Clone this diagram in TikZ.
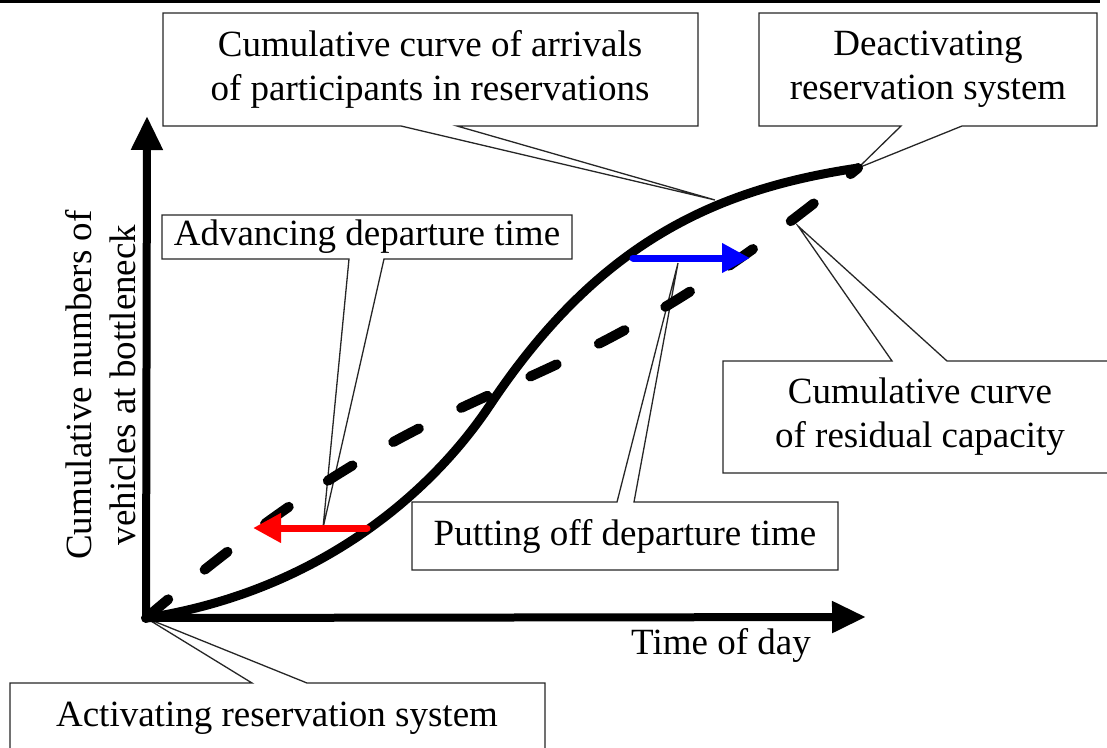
\documentclass[tikz,border=0pt]{standalone}
\usepackage{fontspec}
\setmainfont{Liberation Serif}
\usetikzlibrary{arrows.meta}
\begin{document}
\begin{tikzpicture}[x=1pt,y=-1pt,
  txt/.style={font=\fontsize{37}{44}\selectfont, align=center, inner sep=0pt},
  callout/.style={draw=black!85, line width=1.3pt, fill=white, line join=miter},
  axisline/.style={line width=8pt, -{Triangle[length=34pt,width=30pt]}},
  curveline/.style={line width=9pt, line cap=round, line join=round},
  dashline/.style={line width=10pt, line cap=round, dash pattern=on 29pt off 47pt},
  shiftarrow/.style={line width=7pt, line cap=round, -{Triangle[length=28pt,width=28pt]}}]
\useasboundingbox (0,0) rectangle (1107,747);
\clip (0,0) rectangle (1107,747);

% rule along the top edge
\fill (0,0) rectangle (1100,3);

% key points
\coordinate (O) at (146,618);
\coordinate (ytip) at (147,116);
\coordinate (xtip) at (866,617);
\coordinate (top) at (858,168);
\coordinate (infl) at (490,405);
\coordinate (onArr) at (715,200);
\coordinate (onCap) at (798,226);
\coordinate (onRed) at (323,528);
\coordinate (onBlue) at (678,263);
\coordinate (redStart) at (367,528);
\coordinate (redTip) at (253,528);
\coordinate (blueStart) at (633,258);
\coordinate (blueTip) at (750,258);

% callout frames
\draw[callout] (163,13) -- (698,13) -- (698,126) -- (457,126) -- (onArr) -- (401,126) -- (163,126) -- cycle;
\draw[callout] (759,13) -- (1097,13) -- (1097,126) -- (962,126) -- (top) -- (901,126) -- (759,126) -- cycle;
\draw[callout] (162,215) -- (572,215) -- (572,259) -- (384,259) -- (onRed) -- (349,259) -- (162,259) -- cycle;
\draw[callout] (412,502) -- (617,502) -- (onBlue) -- (634,502) -- (838,502) -- (838,570) -- (412,570) -- cycle;
\draw[callout] (723,361) -- (892,361) -- (onCap) -- (947,361) -- (1125,361) -- (1125,473) -- (723,473) -- cycle;
\draw[callout] (10,683) -- (252,683) -- (O) -- (307,683) -- (545,683) -- (545,770) -- (10,770) -- cycle;

% callout texts
\node[txt] (tArr) at (430,69) {Cumulative curve of arrivals\\of participants in reservations};
\node[txt] (tDeact) at (928,69) {Deactivating\\reservation system};
\node[txt] (tAdv) at (367,237) {Advancing departure time};
\node[txt] (tPut) at (625,536) {Putting off departure time};
\node[txt] (tCap) at (920,417) {Cumulative curve\\of residual capacity};
\node[txt] (tAct) at (277,718) {Activating reservation system};

% axes
\draw[axisline] (O) -- (ytip);
\draw[axisline] (O) -- (xtip);
\node[txt] (xlab) at (721,645) {Time of day};
\node[txt, rotate=90] (ylab) at (101,385) {Cumulative numbers of\\vehicles at bottleneck};

% cumulative residual capacity (dashed)
\draw[dashline] (O) .. controls (482,332) and (522,444) .. (top);

% cumulative arrivals (solid)
\draw[curveline] (O) .. controls (316,592) and (430,495) .. (infl)
                     .. controls (600,240) and (718,189) .. (top);

% shifts of departure time
\draw[shiftarrow, red] (redStart) -- (redTip);
\draw[shiftarrow, blue] (blueStart) -- (blueTip);
\end{tikzpicture}
\end{document}
